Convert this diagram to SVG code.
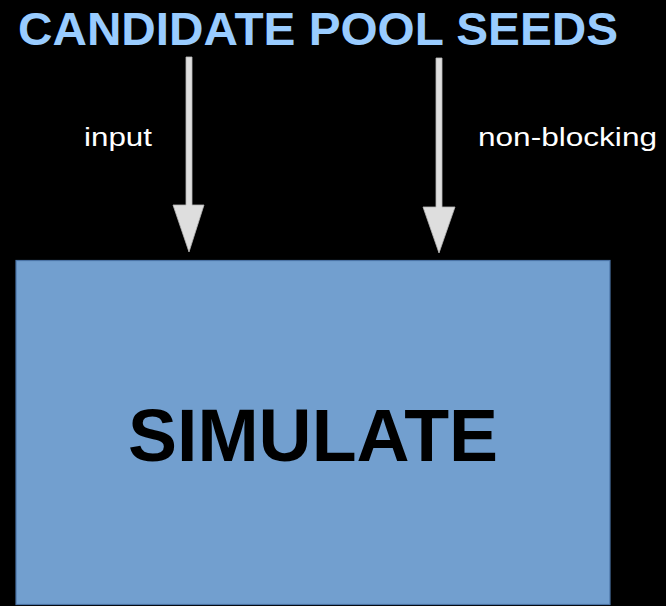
<svg xmlns="http://www.w3.org/2000/svg" width="666" height="606" viewBox="0 0 666 606">
  <style>
    .title { font-family: "Liberation Sans", Arial, sans-serif; font-weight: bold; font-size: 46px; fill: #99ccff; }
    .label { font-family: "Liberation Sans", Arial, sans-serif; font-size: 26px; fill: #ffffff; }
    .node-label { font-family: "Liberation Sans", Arial, sans-serif; font-weight: bold; font-size: 75px; fill: #000000; }
    .arrow { fill: #dedede; stroke: #b8b8b8; stroke-width: 0.8; }
  </style>
  <rect width="666" height="606" fill="#000000"/>

  <g id="seeds">
    <text class="title" x="18" y="45" textLength="600" lengthAdjust="spacingAndGlyphs">CANDIDATE POOL SEEDS</text>
  </g>

  <g id="simulate">
    <rect x="16" y="260.5" width="594" height="344" fill="#729fcf" stroke="#4a73a6" stroke-width="1.2"/>
    <text class="node-label" x="128" y="461" textLength="370" lengthAdjust="spacingAndGlyphs">SIMULATE</text>
  </g>

  <g id="connectors">
    <path class="arrow" d="M186,57 L192,57 L192,205 L204,205 L189,252 L173,205 L186,205 Z"/>
    <path class="arrow" d="M436,58 L442,58 L442,207 L455,207 L439,253 L423,207 L436,207 Z"/>
    <text class="label" x="84" y="146" textLength="68" lengthAdjust="spacingAndGlyphs">input</text>
    <text class="label" x="478" y="146" textLength="179" lengthAdjust="spacingAndGlyphs">non-blocking</text>
  </g>
</svg>
